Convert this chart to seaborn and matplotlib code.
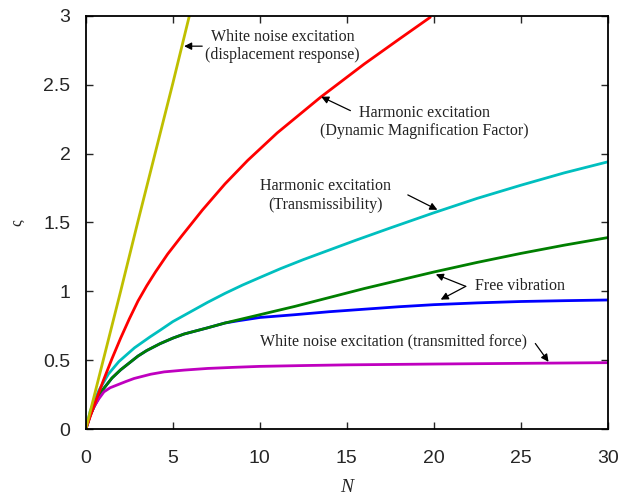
import matplotlib
matplotlib.use("Agg")
import matplotlib.pyplot as plt
import seaborn as sns

# curves (N, varsigma)
N_yellow = [0, 1, 2, 3, 4, 5, 5.95]
z_yellow = [0, 0.5, 1.0, 1.51, 2.01, 2.51, 3.0]

N_red = [0, 0.5, 1, 1.5, 2, 2.5, 3, 3.5, 4, 4.7, 5.5, 6.7, 8, 9.3, 11, 13.5, 16, 18, 19.8]
z_red = [0, 0.18, 0.35, 0.51, 0.66, 0.8, 0.93, 1.04, 1.14, 1.27, 1.40, 1.59, 1.78, 1.95, 2.15,
         2.41, 2.65, 2.83, 2.99]

N_cyan = [0, 0.25, 0.75, 1.3, 1.9, 2.8, 3.7, 4.3, 5, 6, 7, 8, 9, 10, 11.2, 12.5, 14, 15.5,
          17.5, 20, 22.5, 25, 27.5, 30]
z_cyan = [0, 0.13, 0.28, 0.40, 0.49, 0.59, 0.67, 0.72, 0.78, 0.85, 0.92, 0.985, 1.045, 1.10,
          1.165, 1.23, 1.30, 1.37, 1.46, 1.57, 1.675, 1.77, 1.86, 1.94]

N_green = [0, 0.25, 0.5, 0.94, 1.5, 2, 2.5, 3, 3.5, 4.27, 5, 5.65, 7, 8, 9, 10, 12, 14, 16,
           18, 20, 22.5, 25, 27.5, 30]
z_green = [0, 0.1, 0.17, 0.28, 0.37, 0.43, 0.48, 0.53, 0.57, 0.62, 0.66, 0.69, 0.735, 0.77,
           0.80, 0.83, 0.89, 0.955, 1.02, 1.08, 1.14, 1.21, 1.275, 1.335, 1.39]

N_blue = [0, 0.25, 0.5, 0.94, 1.5, 2, 2.5, 3, 3.5, 4.27, 5, 5.65, 7, 8, 8.7, 10, 12, 14, 16,
          18, 20, 22.5, 25, 27.5, 30]
z_blue = [0, 0.1, 0.17, 0.28, 0.37, 0.43, 0.48, 0.53, 0.57, 0.62, 0.66, 0.69, 0.735, 0.77,
          0.785, 0.81, 0.83, 0.852, 0.87, 0.888, 0.903, 0.916, 0.926, 0.932, 0.937]

N_mag = [0, 0.25, 0.46, 0.75, 1.04, 1.4, 1.8, 2.3, 2.77, 3.73, 4.5, 5.65, 7, 8.5, 10, 12.5,
         15, 20, 25, 30]
z_mag = [0, 0.1, 0.16, 0.22, 0.27, 0.30, 0.32, 0.345, 0.367, 0.398, 0.415, 0.428, 0.44, 0.448,
         0.455, 0.461, 0.466, 0.472, 0.477, 0.482]

sns.set_style("ticks")
plt.rcParams["font.family"] = ["Liberation Sans", "DejaVu Sans"]

fig = plt.figure(figsize=(6.22, 4.96), dpi=100)
ax = fig.add_axes([0.138, 0.135, 0.839, 0.833])

lw = 2.0
sns.lineplot(x=N_blue, y=z_blue, color="#0000ff", lw=lw, ax=ax)
sns.lineplot(x=N_green, y=z_green, color="#007f00", lw=lw, ax=ax)
sns.lineplot(x=N_mag, y=z_mag, color="#bf00bf", lw=lw, ax=ax)
sns.lineplot(x=N_cyan, y=z_cyan, color="#00bfbf", lw=lw, ax=ax)
sns.lineplot(x=N_red, y=z_red, color="#ff0000", lw=lw, ax=ax)
sns.lineplot(x=N_yellow, y=z_yellow, color="#bfbf00", lw=lw, ax=ax)

ax.set_xlim(0, 30)
ax.set_ylim(0, 3)
ax.set_xticks([0, 5, 10, 15, 20, 25, 30])
ax.set_yticks([0, 0.5, 1, 1.5, 2, 2.5, 3])
ax.set_yticklabels(["0", "0.5", "1", "1.5", "2", "2.5", "3"])
ax.tick_params(direction="in", top=True, right=True, length=5, width=1, labelsize=14)
ax.tick_params(axis="x", pad=15)
ax.tick_params(axis="y", pad=11)
for s in ax.spines.values():
    s.set_linewidth(1.3)
    s.set_color("black")

ax.set_xlabel("N", fontsize=14, family="Liberation Serif", style="italic", labelpad=9)
ax.set_ylabel("ς", fontsize=12, family="Liberation Serif", labelpad=13)

serif = dict(family="Liberation Serif", fontsize=11.5, color="#222222")
arw = dict(arrowstyle="-|>", color="black", lw=0.9, mutation_scale=11, shrinkA=0, shrinkB=0)

ax.text(11.3, 2.78, "White noise excitation\n(displacement response)", ha="center", va="center", linespacing=1.2, **serif)
ax.annotate("", xy=(5.65, 2.78), xytext=(6.69, 2.78), arrowprops=arw)

ax.text(19.48, 2.228, "Harmonic excitation\n(Dynamic Magnification Factor)", ha="center", va="center", linespacing=1.2, **serif)
ax.annotate("", xy=(13.53, 2.413), xytext=(15.21, 2.312), arrowprops=arw)

ax.text(13.78, 1.696, "Harmonic excitation\n(Transmissibility)", ha="center", va="center", linespacing=1.2, **serif)
ax.annotate("", xy=(20.21, 1.592), xytext=(18.51, 1.70), arrowprops=arw)

ax.text(22.36, 1.036, "Free vibration", ha="left", va="center", **serif)
ax.annotate("", xy=(20.12, 1.123), xytext=(21.84, 1.036), arrowprops=arw)
ax.annotate("", xy=(20.4, 0.94), xytext=(21.84, 1.036), arrowprops=arw)

ax.text(17.67, 0.64, "White noise excitation (transmitted force)", ha="center", va="center", **serif)
ax.annotate("", xy=(26.6, 0.488), xytext=(25.84, 0.621), arrowprops=arw)

fig.savefig("out.png", dpi=100)
